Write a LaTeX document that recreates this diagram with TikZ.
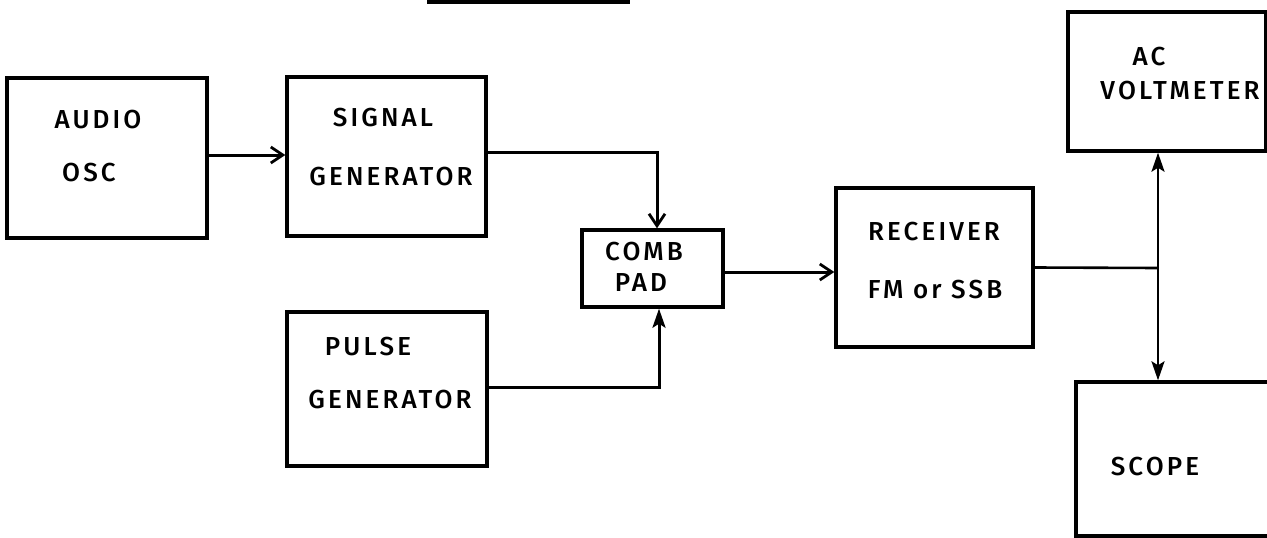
\documentclass[tikz,border=0pt]{standalone}
\usepackage{fontspec}
\setmainfont{Fira Sans}
\usetikzlibrary{arrows.meta,calc}
\newfontfamily\hand[LetterSpace=12]{Fira Sans Medium}
\begin{document}
\begin{tikzpicture}[x=1pt,y=-1pt,
  box/.style={draw, line width=3.4pt, inner sep=0pt},
  lbl/.style={inner sep=0pt, font=\hand\fontsize{26}{30}\selectfont},
  wire/.style={line width=3pt},
  thin/.style={line width=2.6pt},
  barb/.style={wire, -{Straight Barb[length=12pt,width=16pt,line width=2.8pt]}},
  tri/.style={thin, -{Stealth[length=19pt,width=13pt,inset=4pt]}}]
\useasboundingbox (0,0) rectangle (1267,538);
% title underline (cut off)
\draw[line width=4.5pt] (427,1.5) coordinate (ta) -- (630,1.5) coordinate (tb);
% boxes
\node[box, minimum width=200pt, minimum height=160pt] (audio) at (107,158) {};
\node[box, minimum width=199pt, minimum height=159pt] (signal) at (386.5,156.5) {};
\node[box, minimum width=141pt, minimum height=77pt] (comb) at (652.5,268.5) {};
\node[box, minimum width=200pt, minimum height=154pt] (pulse) at (387,389) {};
\node[box, minimum width=197pt, minimum height=159pt] (receiver) at (934.5,267.5) {};
\node[box, minimum width=198pt, minimum height=139pt] (ac) at (1167,81.5) {};
\node[box, minimum width=194pt, minimum height=154pt] (scope) at (1173,459) {};
% labels
\node[lbl] (t1) at (98,120) {AUDIO};
\node[lbl] (t2) at (89,173) {OSC};
\node[lbl] (t3) at (383,118) {SIGNAL};
\node[lbl] (t4) at (391,177) {GENERATOR};
\node[lbl] (t5) at (644,252) {COMB};
\node[lbl] (t6) at (641,283) {PAD};
\node[lbl] (t7) at (368,347) {PULSE};
\node[lbl] (t8) at (390,400) {GENERATOR};
\node[lbl] (t9) at (934,232) {RECEIVER};
\node[lbl] (t10) at (935,290) {FM or SSB};
\node[lbl] (t11) at (1149,57) {AC};
\node[lbl] (t12) at (1180,91) {VOLTMETER};
\node[lbl] (t13) at (1155,467) {SCOPE};
% connectors
\draw[barb] ([yshift=3pt]audio.east) -- ([yshift=3pt]audio.east -| signal.west);
\draw[barb] ([yshift=4.5pt]signal.east) -| ([xshift=4.5pt]comb.north);
\draw[tri, line width=3pt] ([yshift=2pt]pulse.east) -| ([xshift=6.5pt]comb.south);
\draw[barb] ([yshift=-3.5pt]comb.east) -- ([yshift=-3.5pt]comb.east -| receiver.west);
\coordinate (j) at (1158,268);
\draw[thin] (receiver.east) -- (j);
\draw[tri] (j) -- (j |- ac.south);
\draw[tri] (j) -- (j |- scope.north);
\end{tikzpicture}
\end{document}
